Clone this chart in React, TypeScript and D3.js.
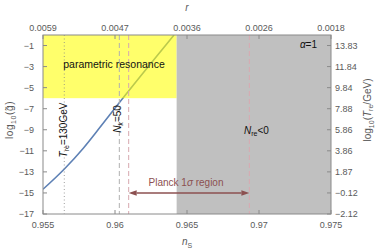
import React from "react";
import * as d3 from "d3";

// spectral index n_s (bottom axis) and the matching r values (top axis)
const nsTicks = [0.955, 0.96, 0.965, 0.97, 0.975];
const rTickLabels = ["0.0059", "0.0047", "0.0036", "0.0026", "0.0018"];

// log10(g~) ticks on the left, log10(T_re/GeV) labels on the right
const gTicks = [-1, -3, -5, -7, -9, -11, -13, -15, -17];
const treTickLabels = ["13.83", "11.84", "9.84", "7.88", "5.86", "3.86", "1.87", "\u22120.12", "\u22122.12"];

// the alpha=1 curve
const curveNs = [0.955, 0.9565, 0.9578, 0.959, 0.9602, 0.9624, 0.9641];
const curveLogG = [-14.65, -12.7, -10.75, -8.7, -6.6, -2.85, 0.0];

// regions and reference lines
const resonanceNs = [0.955, 0.96428];
const resonanceLogG = [-6, 0];
const nreNegativeNs = [0.96428, 0.975];
const tre130Ns = 0.95648;
const nk50Ns = 0.9603;
const planckNs = [0.96095, 0.96933];
const planckArrowLogG = -15;

const W = 382;
const H = 250;
const left = 43;
const right = 331;
const top = 35;
const bottom = 214;

const font = "'Liberation Sans', Arial, sans-serif";
const tickColor = "#5a5a5a";
const frameColor = "#8a8a8a";
const arrowColor = "#8c5050";

export default function App() {
  const x = d3.scaleLinear().domain([0.955, 0.975]).range([left, right]);
  const y = d3.scaleLinear().domain([-17, 0]).range([bottom, top]);

  const line = d3
    .line<number>()
    .x((_, i) => x(curveNs[i]))
    .y(d => y(d))
    .curve(d3.curveMonotoneX);

  const ax0 = x(planckNs[0]);
  const ax1 = x(planckNs[1]);
  const ay = y(planckArrowLogG);
  const head = 8;
  const hw = 2.8;

  return (
    <svg
      width={W}
      height={H}
      style={{ position: "absolute", left: 0, top: 0, background: "#fff" }}
      fontFamily={font}
    >
      <defs>
        <clipPath id="plot">
          <rect x={left} y={top} width={right - left} height={bottom - top} />
        </clipPath>
      </defs>

      <g clipPath="url(#plot)">
        {/* blue curve goes under the shaded regions */}
        <path d={line(curveLogG) || ""} fill="none" stroke="#5e81b5" strokeWidth={1.6} />

        <rect
          x={x(resonanceNs[0])}
          y={y(resonanceLogG[1])}
          width={x(resonanceNs[1]) - x(resonanceNs[0])}
          height={y(resonanceLogG[0]) - y(resonanceLogG[1])}
          fill="#ffff00"
          fillOpacity={0.58}
        />
        <rect
          x={x(nreNegativeNs[0])}
          y={top}
          width={x(nreNegativeNs[1]) - x(nreNegativeNs[0])}
          height={bottom - top}
          fill="#c0c0c0"
        />

        <line x1={x(tre130Ns)} x2={x(tre130Ns)} y1={top} y2={bottom} stroke="#888" strokeWidth={0.8} strokeDasharray="1,2.5" />
        <line x1={x(nk50Ns)} x2={x(nk50Ns)} y1={top} y2={bottom} stroke="#b0b0b0" strokeWidth={1} strokeDasharray="5,3" />
        {planckNs.map(v => (
          <line key={v} x1={x(v)} x2={x(v)} y1={top} y2={bottom} stroke="#d8a8b0" strokeWidth={1} strokeDasharray="5,3" />
        ))}

        {/* Planck 1 sigma double arrow */}
        <line x1={ax0 + head} x2={ax1 - head} y1={ay} y2={ay} stroke={arrowColor} strokeWidth={1.5} />
        <path d={`M${ax0},${ay}L${ax0 + head},${ay - hw}L${ax0 + head},${ay + hw}Z`} fill={arrowColor} />
        <path d={`M${ax1},${ay}L${ax1 - head},${ay - hw}L${ax1 - head},${ay + hw}Z`} fill={arrowColor} />
      </g>

      {/* frame */}
      <rect x={left} y={top} width={right - left} height={bottom - top} fill="none" stroke={frameColor} strokeWidth={1} />

      {/* bottom + top ticks */}
      {nsTicks.map((v, i) => (
        <g key={v}>
          <line x1={x(v)} x2={x(v)} y1={bottom} y2={bottom - 4} stroke={frameColor} />
          <line x1={x(v)} x2={x(v)} y1={top} y2={top + 4} stroke={frameColor} />
          <text x={x(v)} y={228} textAnchor="middle" fontSize={9} fill={tickColor}>
            {v}
          </text>
          <text x={x(v)} y={30.5} textAnchor="middle" fontSize={9} fill={tickColor}>
            {rTickLabels[i]}
          </text>
        </g>
      ))}

      {/* left + right ticks */}
      {gTicks.map((v, i) => (
        <g key={v}>
          <line x1={left} x2={left + 4} y1={y(v)} y2={y(v)} stroke={frameColor} />
          <line x1={right} x2={right - 4} y1={y(v)} y2={y(v)} stroke={frameColor} />
          <text x={34} y={y(v) + 3.2} textAnchor="end" fontSize={9} fill={tickColor}>
            {"\u2212" + Math.abs(v)}
          </text>
          <text x={335} y={y(v) + 3.2} textAnchor="start" fontSize={9} fill={tickColor}>
            {treTickLabels[i]}
          </text>
        </g>
      ))}

      {/* axis titles */}
      <text x={187} y={245} textAnchor="middle" fontSize={10} fill={tickColor}>
        <tspan fontStyle="italic">n</tspan>
        <tspan fontSize={7} dy={2.5}>S</tspan>
      </text>
      <text x={187} y={10.5} textAnchor="middle" fontSize={10} fill={tickColor} fontStyle="italic">
        r
      </text>
      <text transform="translate(13,120) rotate(-90)" textAnchor="middle" fontSize={10} fill={tickColor} letterSpacing={0.6}>
        log<tspan fontSize={7} dy={2.5}>10</tspan>
        <tspan dy={-2.5}>(g&#x303;)</tspan>
      </text>
      <text transform="translate(371,110) rotate(-90)" textAnchor="middle" fontSize={10} fill={tickColor}>
        log<tspan fontSize={7} dy={2.5}>10</tspan>
        <tspan dy={-2.5}>(</tspan>
        <tspan fontStyle="italic">T</tspan>
        <tspan fontSize={7} dy={2}>re</tspan>
        <tspan dy={-2}>/GeV)</tspan>
      </text>

      {/* annotations */}
      <text x={114} y={67.5} textAnchor="middle" fontSize={10.5} fill="#111">
        parametric resonance
      </text>
      <text x={317} y={48} textAnchor="end" fontSize={10} fill="#111">
        <tspan fontStyle="italic">α</tspan>=1
      </text>
      <text x={244} y={134} fontSize={10} fill="#111">
        <tspan fontStyle="italic">N</tspan>
        <tspan fontSize={7} dy={2}>re</tspan>
        <tspan dy={-2}>&lt;0</tspan>
      </text>
      <text transform="translate(66.5,130) rotate(-90)" textAnchor="middle" fontSize={10} fill="#111">
        <tspan fontStyle="italic">T</tspan>
        <tspan fontSize={7} dy={2}>re</tspan>
        <tspan dy={-2}>=130GeV</tspan>
      </text>
      <text transform="translate(121,119) rotate(-90)" textAnchor="middle" fontSize={10} fill="#111">
        <tspan fontStyle="italic">N</tspan>
        <tspan fontSize={7} fontStyle="italic" dy={2}>k</tspan>
        <tspan dy={-2}>=50</tspan>
      </text>
      <text x={186} y={186} textAnchor="middle" fontSize={10} fill={arrowColor}>
        Planck 1<tspan fontStyle="italic">σ</tspan> region
      </text>
    </svg>
  );
}
